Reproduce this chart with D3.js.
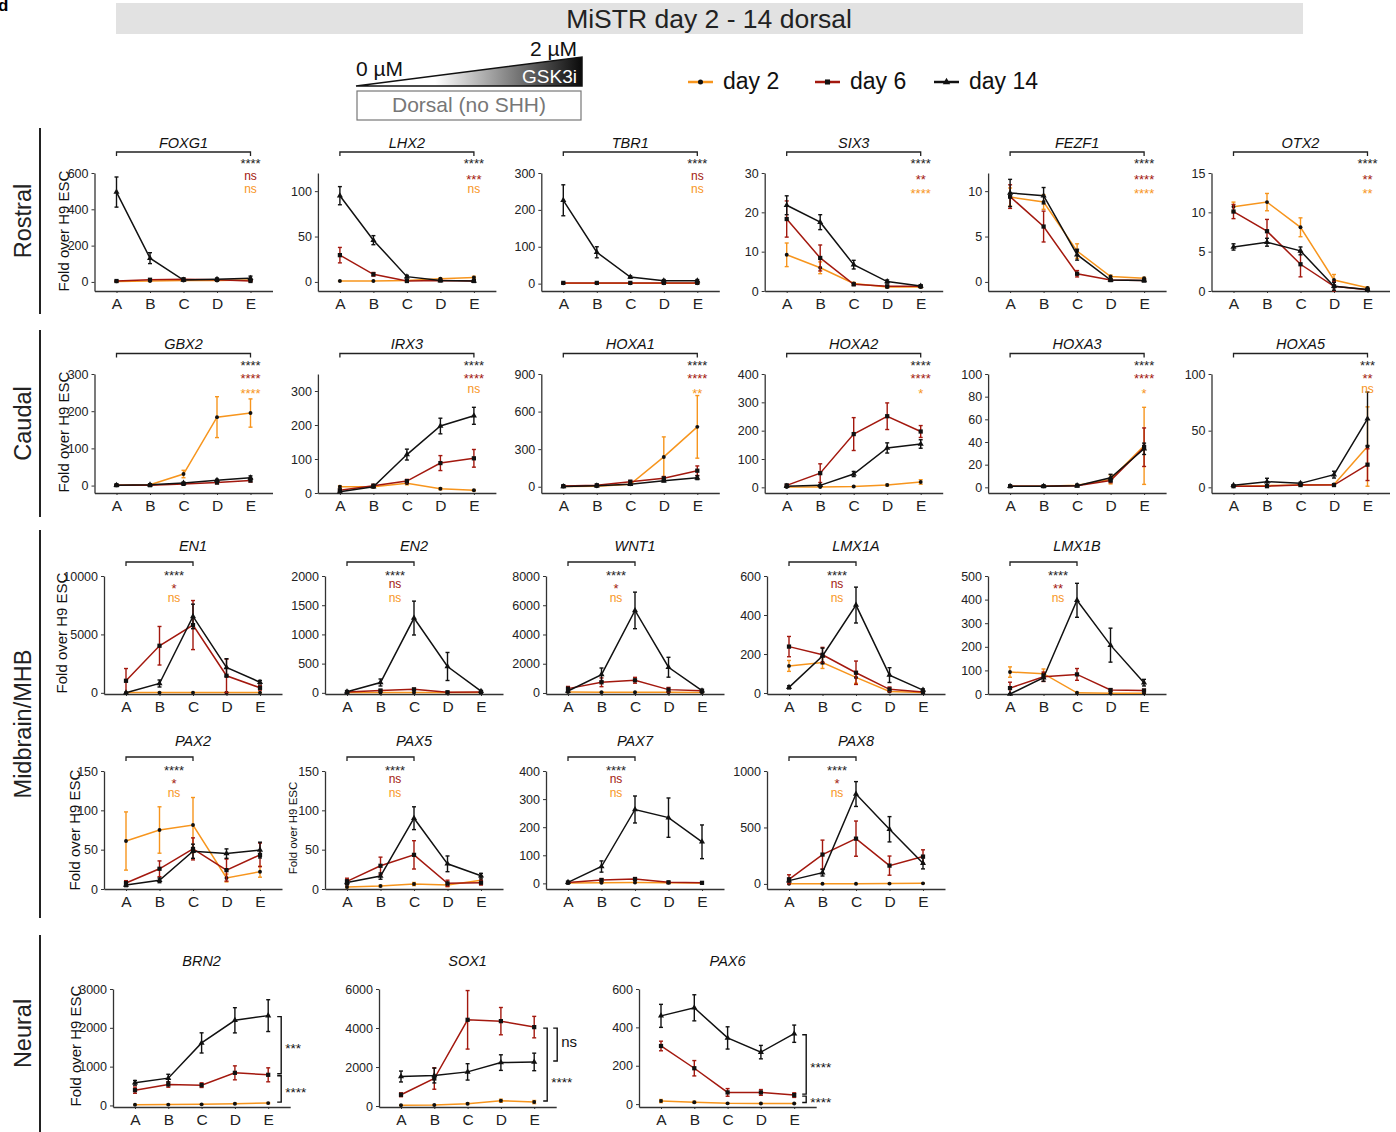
<!DOCTYPE html>
<html><head><meta charset="utf-8">
<script src="https://cdn.jsdelivr.net/npm/d3@7"></script>
<style>body{margin:0;background:#fff}svg{display:block}</style>
</head><body><svg id="c" width="1396" height="1132"></svg>
<script>
// ---------------- DATA ----------------
const categories = ["A","B","C","D","E"];
const seriesNames = ["day 2","day 6","day 14"];
const seriesColors = ["#F7951D","#A3180E","#111111"];
const chartTitle = "MiSTR day 2 - 14 dorsal";
const rowLabels = ["Rostral","Caudal","Midbrain/MHB","Neural"];
const yLabel = "Fold over H9 ESC";

// each gene: [day2, day6, day14] means, errors (SEM), y-domain, ticks, significance [day2, day6, day14]
const FOXG1 = [[3,5,8,8,10],[5,12,15,12,5],[495,131,10,15,20]];
const FOXG1_err = [[2,2,3,3,3],[2,4,4,4,2],[83,30,4,6,12]];
const FOXG1_dom = [-50,600], FOXG1_ticks = [0,200,400,600], FOXG1_sig = ["ns","ns","****"];

const LHX2 = [[1,1,1.5,3.5,5],[29.5,8.4,1,1.5,1],[95,46,5.8,1.5,1]];
const LHX2_err = [[0.3,0.3,0.5,1,1.2],[8.5,2,0.5,0.5,0.3],[10,5,1.5,0.5,0.3]];
const LHX2_dom = [-10,120], LHX2_ticks = [0,50,100], LHX2_sig = ["ns","***","****"];

const TBR1 = [[1,1,1,1,1],[2,2,2,2,2],[226,85,18,8,8]];
const TBR1_err = [[0.3,0.3,0.3,0.3,0.3],[0.5,0.5,0.5,0.5,0.5],[42,15,3,3,3]];
const TBR1_dom = [-20,300], TBR1_ticks = [0,100,200,300], TBR1_sig = ["ns","ns","****"];

const SIX3 = [[9.2,5.9,1.9,1.0,1.0],[18.3,8.4,1.7,1.2,1.2],[21.8,17.5,6.7,2.4,1.3]];
const SIX3_err = [[3,1.5,0.3,0.2,0.2],[4.6,3.3,0.3,0.2,0.2],[2.4,1.9,1.1,0.4,0.2]];
const SIX3_dom = [0,30], SIX3_ticks = [0,10,20,30], SIX3_sig = ["****","**","****"];

const FEZF1 = [[9.35,8.8,3.4,0.6,0.4],[9.4,6.1,0.9,0.2,0.15],[9.8,9.5,3.0,0.2,0.15]];
const FEZF1_err = [[1,0.8,0.8,0.15,0.1],[1.3,1.7,0.35,0.1,0.05],[1.5,0.9,0.6,0.1,0.05]];
const FEZF1_dom = [-1,12], FEZF1_ticks = [0,5,10], FEZF1_sig = ["****","****","****"];

const OTX2 = [[10.7,11.3,8.1,1.4,0.4],[10.1,7.6,3.4,0.6,0.15],[5.6,6.2,5.1,0.6,0.2]];
const OTX2_err = [[0.6,1.1,1.2,0.7,0.1],[0.9,1.5,1.6,0.6,0.1],[0.4,0.5,0.5,0.5,0.1]];
const OTX2_dom = [0,15], OTX2_ticks = [0,5,10,15], OTX2_sig = ["**","**","****"];

const GBX2 = [[1,2,31,184,195],[1,1,4.5,8,13.5],[1,2,7,14,21]];
const GBX2_err = [[0.5,0.5,10,55,38],[0.3,0.3,1.5,3,4],[0.3,0.5,2,3,5]];
const GBX2_dom = [-20,300], GBX2_ticks = [0,100,200,300], GBX2_sig = ["****","****","****"];

const IRX3 = [[18.6,18.6,29,12.7,8],[8,21.5,35,88,102],[4,18.6,113,197,227]];
const IRX3_err = [[3,3,5,3,2],[3,4,5,22,26],[2,3,16,23,25]];
const IRX3_dom = [0,350], IRX3_ticks = [0,100,200,300], IRX3_sig = ["ns","****","****"];

const HOXA1 = [[2,3,19,238,478],[5,12,40,67,128],[2,8,19,48,72]];
const HOXA1_err = [[1,1,5,160,250],[2,4,10,15,38],[1,3,5,10,15]];
const HOXA1_dom = [-50,900], HOXA1_ticks = [0,300,600,900], HOXA1_sig = ["**","****","****"];

const HOXA2 = [[1,1,3,8,19],[7,50,188,251,197],[3.5,7,47,139,153]];
const HOXA2_err = [[0.5,0.5,1,3,8],[3,33,58,47,21],[1,2,9,18,15]];
const HOXA2_dom = [-20,400], HOXA2_ticks = [0,100,200,300,400], HOXA2_sig = ["*","****","****"];

const HOXA3 = [[1,1,1.8,7,36.6],[1,1,1.5,6,35.4],[1,1,1.5,8.5,34]];
const HOXA3_err = [[0.2,0.2,0.4,4,34],[0.2,0.2,0.3,2,17],[0.2,0.2,0.3,3,5]];
const HOXA3_dom = [-5,100], HOXA3_ticks = [0,20,40,60,80,100], HOXA3_sig = ["*","****","****"];

const HOXA5 = [[1,1.5,2,2.5,36],[1,1,2,2,20],[1.8,5,3.5,11.2,60.5]];
const HOXA5_err = [[0.3,0.5,0.5,0.5,35],[0.3,0.3,0.5,0.5,14],[0.5,3,1,3,23.6]];
const HOXA5_dom = [-5,100], HOXA5_ticks = [0,50,100], HOXA5_sig = ["ns","**","***"];

const EN1 = [[20,20,20,20,20],[1030,4030,5800,1460,430],[10,800,6540,2170,910]];
const EN1_err = [[10,10,10,10,10],[1050,1650,2100,1430,200],[10,300,1050,750,150]];
const EN1_dom = [-100,10000], EN1_ticks = [0,5000,10000], EN1_sig = ["ns","*","****"];

const EN2 = [[5,5,5,5,5],[15,40,60,10,15],[17,177,1280,451,29]];
const EN2_err = [[2,2,2,2,2],[5,10,15,5,5],[8,60,290,240,10]];
const EN2_dom = [-20,2000], EN2_ticks = [0,500,1000,1500,2000], EN2_sig = ["ns","ns","****"];

const WNT1 = [[60,50,50,50,40],[297,731,869,229,160],[137,1257,5646,1760,160]];
const WNT1_err = [[20,20,20,20,20],[150,300,200,150,50],[50,450,1250,680,60]];
const WNT1_dom = [-70,8000], WNT1_ticks = [0,2000,4000,6000,8000], WNT1_sig = ["ns","*","****"];

const LMX1A = [[139,156,80,8,3],[238,196,104,19,5],[29,190,451,92,15]];
const LMX1A_err = [[28,30,30,4,2],[52,38,60,12,3],[8,40,92,38,6]];
const LMX1A_dom = [-5,600], LMX1A_ticks = [0,200,400,600], LMX1A_sig = ["ns","ns","****"];

const LMX1B = [[93,86,5,3,3],[25,73,83,17,15],[0,69,397,207,48]];
const LMX1B_err = [[22,20,2,1,1],[25,20,25,5,5],[1,15,72,72,14]];
const LMX1B_dom = [0,500], LMX1B_ticks = [0,100,200,300,400,500], LMX1B_sig = ["ns","**","****"];

const PAX2 = [[61,75,81.3,14,22],[7.6,25.7,51,24,43.4],[5,11,48,45,49.5]];
const PAX2_err = [[37,29.5,35,5,7],[3,10,14,14,15],[2,3,9,6,10]];
const PAX2_dom = [0,150], PAX2_ticks = [0,50,100,150], PAX2_sig = ["ns","*","****"];

const PAX5 = [[2.5,3.8,6.3,5,11],[9.7,29.5,43.4,7.2,8],[8.4,16.4,90,32,16.9]];
const PAX5_err = [[1,1,2,2,5],[4,11,18,4,3],[3,4,14.5,10,3]];
const PAX5_dom = [0,150], PAX5_ticks = [0,50,100,150], PAX5_sig = ["ns","ns","****"];

const PAX7 = [[1,2,3,2,1],[3,12,15.5,4,2],[3.6,60,263,234,148]];
const PAX7_err = [[0.5,1,1,1,0.5],[1,5,5,2,1],[2,20,48,70,60]];
const PAX7_dom = [-20,400], PAX7_ticks = [0,100,200,300,400], PAX7_sig = ["ns","ns","****"];

const PAX8 = [[1,1,1,3,5],[41,260,401,162,242],[29,100,796,484,183]];
const PAX8_err = [[0.5,0.5,0.5,1,2],[40,128,156,85,60],[10,30,110,112,50]];
const PAX8_dom = [-45,1000], PAX8_ticks = [0,500,1000], PAX8_sig = ["ns","*","****"];

const BRN2 = [[20,22,28,45,60],[394,540,523,840,789],[583,703,1611,2194,2314]];
const BRN2_err = [[8,8,10,15,15],[80,70,60,180,180],[60,100,260,325,410]];
const BRN2_dom = [-40,3000], BRN2_ticks = [0,1000,2000,3000];
const BRN2_cmp = [[2,1,"***"],[1,0,"****"]];

const SOX1 = [[40,50,120,270,204],[578,1411,4420,4352,4046],[1513,1564,1751,2227,2261]];
const SOX1_err = [[20,20,40,80,80],[100,550,1500,700,550],[280,380,420,400,450]];
const SOX1_dom = [-50,6000], SOX1_ticks = [0,2000,4000,6000];
const SOX1_cmp = [[1,0,"****"],[1,2,"ns"]];

const PAX6 = [[16,10,4,3,3],[303,187,61,61,47],[460,502,345,271,367]];
const PAX6_err = [[8,5,2,2,2],[25,40,20,15,12],[60,68,58,35,45]];
const PAX6_dom = [-15,600], PAX6_ticks = [0,200,400,600];
const PAX6_cmp = [[2,1,"****"],[1,0,"****"]];

// ---------------- DRAWING ----------------
const FONT = '"Liberation Sans", Arial, Helvetica, sans-serif';
const svg = d3.select("#c").style("font-family", FONT);

// panel label (cropped in the original)
svg.append("text").attr("x",-2).attr("y",11).attr("font-size",17).attr("font-weight","bold").text("d");

// title band
svg.append("rect").attr("x",116).attr("y",3).attr("width",1187).attr("height",31).attr("fill","#e2e2e2");
svg.append("text").attr("x",709).attr("y",28).attr("text-anchor","middle").attr("font-size",26.5).attr("fill","#222").text(chartTitle);

// gradient wedge
const defs = svg.append("defs");
const grad = defs.append("linearGradient").attr("id","gsk").attr("x1","0%").attr("x2","100%");
grad.append("stop").attr("offset","0%").attr("stop-color","#ffffff");
grad.append("stop").attr("offset","35%").attr("stop-color","#ffffff");
grad.append("stop").attr("offset","100%").attr("stop-color","#0a0a0a");
svg.append("path").attr("d","M356,86 L582,57 L582,86 Z").attr("fill","url(#gsk)").attr("stroke","#111").attr("stroke-width",1.5);
svg.append("text").attr("x",356).attr("y",76).attr("font-size",21).attr("fill","#111").text("0 µM");
svg.append("text").attr("x",577).attr("y",56).attr("text-anchor","end").attr("font-size",21).attr("fill","#111").text("2 µM");
svg.append("text").attr("x",577).attr("y",83).attr("text-anchor","end").attr("font-size",19).attr("fill","#fff").text("GSK3i");
svg.append("rect").attr("x",357).attr("y",91).attr("width",224).attr("height",29).attr("fill","#fff").attr("stroke","#777").attr("stroke-width",1.2);
svg.append("text").attr("x",469).attr("y",112).attr("text-anchor","middle").attr("font-size",21).attr("fill","#777").text("Dorsal (no SHH)");

// marker shapes per series
const markerSym = [d3.symbolCircle, d3.symbolSquare, d3.symbolTriangle];
const markerSize = [12, 18, 16];

// legend
const legendX = [688, 815, 934];
seriesNames.forEach((n,i)=>{
  const lx = legendX[i];
  svg.append("line").attr("x1",lx).attr("x2",lx+25).attr("y1",82).attr("y2",82).attr("stroke",seriesColors[i]).attr("stroke-width",2.5);
  svg.append("path").attr("d",d3.symbol(markerSym[i], markerSize[i]+8)()).attr("transform",`translate(${lx+12.5},82)`).attr("fill","#111");
  svg.append("text").attr("x",lx+35).attr("y",89).attr("font-size",23).attr("fill","#111").text(n);
});

// row labels and separators
const rowSpans = [[128,314],[330,517],[530,918],[935,1132]];
rowLabels.forEach((t,i)=>{
  const [a,b] = rowSpans[i];
  svg.append("line").attr("x1",40).attr("x2",40).attr("y1",a).attr("y2",b).attr("stroke","#222").attr("stroke-width",2);
  svg.append("text").attr("transform",`translate(31,${(a+b)/2}) rotate(-90)`).attr("text-anchor","middle").attr("font-size",23.5).attr("fill","#222").text(t);
});

function starOffset(txt, fs){ return (/^\*+$/.test(txt) ? 0.58 : 0.27) * fs; }

function drawPanel(gene, data, err, dom, ticks, lay){
  const g = svg.append("g");
  const left = lay.ax - 22, right = lay.ax + 4*lay.step + 22;
  const x = d3.scalePoint().domain(categories).range([left,right]).padding(22/lay.step);
  const y = d3.scaleLinear().domain(dom).range([lay.yBot, lay.yTop]);

  const ya = g.append("g").attr("transform",`translate(${left},0)`)
    .call(d3.axisLeft(y).tickValues(ticks).tickSize(3).tickPadding(3).tickSizeOuter(0).tickFormat(d3.format("d")));
  const xa = g.append("g").attr("transform",`translate(0,${lay.yBot})`)
    .call(d3.axisBottom(x).tickSize(2).tickPadding(5).tickSizeOuter(0));
  [ya,xa].forEach(a=>{
    a.attr("font-family",FONT);
    a.select(".domain").attr("stroke","#333").attr("stroke-width",1.3);
    a.selectAll(".tick line").attr("stroke","#333");
    a.selectAll("text").attr("fill","#222");
  });
  ya.attr("font-size",12.5);
  xa.attr("font-size",15.5);

  // series, orange first, black last
  data.forEach((vals,si)=>{
    const col = seriesColors[si];
    const pts = vals.map((v,i)=>({c:categories[i], v, e:err[si][i]}));
    g.append("path").datum(pts).attr("fill","none").attr("stroke",col).attr("stroke-width",1.5)
      .attr("d", d3.line().x(d=>x(d.c)).y(d=>y(d.v)));
    const eb = g.selectAll(null).data(pts).enter().append("g").attr("stroke",col).attr("stroke-width",1.4);
    eb.append("line").attr("x1",d=>x(d.c)).attr("x2",d=>x(d.c)).attr("y1",d=>y(d.v-d.e)).attr("y2",d=>y(d.v+d.e));
    eb.append("line").attr("x1",d=>x(d.c)-2).attr("x2",d=>x(d.c)+2).attr("y1",d=>y(d.v-d.e)).attr("y2",d=>y(d.v-d.e));
    eb.append("line").attr("x1",d=>x(d.c)-2).attr("x2",d=>x(d.c)+2).attr("y1",d=>y(d.v+d.e)).attr("y2",d=>y(d.v+d.e));
    g.selectAll(null).data(pts).enter().append("path")
      .attr("d", d3.symbol(markerSym[si], markerSize[si])())
      .attr("transform", d=>`translate(${x(d.c)},${y(d.v)})`).attr("fill","#111");
  });

  // title
  g.append("text").attr("x",x("C")).attr("y",lay.titleY+5.5).attr("text-anchor","middle")
    .attr("font-size",14.5).attr("font-style","italic").attr("fill","#111").text(gene);

  return {g,x,y};
}

function drawSig(g, x, lay, sig){
  const by = lay.bracketY;
  const x1 = x("A"), x2 = x(lay.bracketTo);
  g.append("path").attr("d",`M${x1},${by+4}V${by}H${x2}V${by+4}`).attr("fill","none").attr("stroke","#222").attr("stroke-width",1.3);
  const sx = lay.sigDx === null ? x2 : x1 + lay.sigDx;
  [2,1,0].forEach((si,k)=>{
    const t = sig[si];
    const fs = /^\*+$/.test(t) ? 13 : 12;
    g.append("text").attr("x",sx).attr("y",lay.sigY[k] + starOffset(t,fs)).attr("text-anchor","middle")
      .attr("font-size",fs).attr("fill",seriesColors[si]==="#111111"?"#222":seriesColors[si]).text(t);
  });
}

function drawYLabel(xb, cy, fs){
  svg.append("text").attr("transform",`translate(${xb},${cy}) rotate(-90)`).attr("text-anchor","middle")
    .attr("font-size",fs).attr("fill","#111").text(yLabel);
}

// ----- layout -----
const row1 = {yTop:173, yBot:291, titleY:142, bracketY:152, sigY:[160,176.5,190], bracketTo:"E", sigDx:null, step:33.5};
const row2 = {yTop:374, yBot:493, titleY:343, bracketY:353.5, sigY:[362.3,375.7,390], bracketTo:"E", sigDx:null, step:33.5};
const row3a = {yTop:576, yBot:694, titleY:545, bracketY:562, sigY:[572.3,585,599], bracketTo:"C", sigDx:48, step:33.5};
const row3b = {yTop:771, yBot:889, titleY:740, bracketY:757, sigY:[767.3,780,794], bracketTo:"C", sigDx:48, step:33.5};
const row4 = {yTop:989, yBot:1107, titleY:960, step:33.3};

const rostral = [["FOXG1",FOXG1,FOXG1_err,FOXG1_dom,FOXG1_ticks,FOXG1_sig],["LHX2",LHX2,LHX2_err,LHX2_dom,LHX2_ticks,LHX2_sig],
  ["TBR1",TBR1,TBR1_err,TBR1_dom,TBR1_ticks,TBR1_sig],["SIX3",SIX3,SIX3_err,SIX3_dom,SIX3_ticks,SIX3_sig],
  ["FEZF1",FEZF1,FEZF1_err,FEZF1_dom,FEZF1_ticks,FEZF1_sig],["OTX2",OTX2,OTX2_err,OTX2_dom,OTX2_ticks,OTX2_sig]];
const caudal = [["GBX2",GBX2,GBX2_err,GBX2_dom,GBX2_ticks,GBX2_sig],["IRX3",IRX3,IRX3_err,IRX3_dom,IRX3_ticks,IRX3_sig],
  ["HOXA1",HOXA1,HOXA1_err,HOXA1_dom,HOXA1_ticks,HOXA1_sig],["HOXA2",HOXA2,HOXA2_err,HOXA2_dom,HOXA2_ticks,HOXA2_sig],
  ["HOXA3",HOXA3,HOXA3_err,HOXA3_dom,HOXA3_ticks,HOXA3_sig],["HOXA5",HOXA5,HOXA5_err,HOXA5_dom,HOXA5_ticks,HOXA5_sig]];
const mid1 = [["EN1",EN1,EN1_err,EN1_dom,EN1_ticks,EN1_sig],["EN2",EN2,EN2_err,EN2_dom,EN2_ticks,EN2_sig],
  ["WNT1",WNT1,WNT1_err,WNT1_dom,WNT1_ticks,WNT1_sig],["LMX1A",LMX1A,LMX1A_err,LMX1A_dom,LMX1A_ticks,LMX1A_sig],
  ["LMX1B",LMX1B,LMX1B_err,LMX1B_dom,LMX1B_ticks,LMX1B_sig]];
const mid2 = [["PAX2",PAX2,PAX2_err,PAX2_dom,PAX2_ticks,PAX2_sig],["PAX5",PAX5,PAX5_err,PAX5_dom,PAX5_ticks,PAX5_sig],
  ["PAX7",PAX7,PAX7_err,PAX7_dom,PAX7_ticks,PAX7_sig],["PAX8",PAX8,PAX8_err,PAX8_dom,PAX8_ticks,PAX8_sig]];

function drawRow(list, base, a0, colStep){
  list.forEach((p,c)=>{
    const lay = Object.assign({}, base, {ax: a0 + c*colStep});
    const r = drawPanel(p[0],p[1],p[2],p[3],p[4],lay);
    drawSig(r.g, r.x, lay, p[5]);
  });
}
drawRow(rostral, row1, 116.5, 223.4);
drawRow(caudal, row2, 116.5, 223.4);
drawRow(mid1, row3a, 126, 221);
drawRow(mid2, row3b, 126, 221);

// neural row
const neural = [["BRN2",BRN2,BRN2_err,BRN2_dom,BRN2_ticks,BRN2_cmp],["SOX1",SOX1,SOX1_err,SOX1_dom,SOX1_ticks,SOX1_cmp],["PAX6",PAX6,PAX6_err,PAX6_dom,PAX6_ticks,PAX6_cmp]];
const neuralA = [135, 401, 661];
const neuralBr = { // bracket x offsets from E, label y fractions
  BRN2: [{dx:13, frac:0.5},{dx:13, frac:0.5}],
  SOX1: [{dx:13, frac:0.7},{dx:23, frac:0.45}],
  PAX6: [{dx:12, frac:0.5},{dx:12, frac:0.5}]
};
neural.forEach((p,c)=>{
  const lay = Object.assign({}, row4, {ax: neuralA[c]});
  const r = drawPanel(p[0],p[1],p[2],p[3],p[4],lay);
  const xe = r.x("E");
  p[5].forEach((cmp,k)=>{
    const [s1,s2,lab] = cmp;
    const o = neuralBr[p[0]][k];
    let ya = r.y(p[1][s1][4]), yb = r.y(p[1][s2][4]);
    const top = Math.min(ya,yb)+1, bot = Math.max(ya,yb)-1;
    const bx = xe + o.dx;
    r.g.append("path").attr("d",`M${bx-4},${top}H${bx}V${bot}H${bx-4}`).attr("fill","none").attr("stroke","#111").attr("stroke-width",1.4);
    const isStar = /^\*+$/.test(lab);
    const fs = isStar ? 13.5 : 15;
    const cy = top + (bot-top)*o.frac;
    r.g.append("text").attr("x",bx+4).attr("y",cy + starOffset(lab,fs)).attr("font-size",fs).attr("fill","#111").text(lab);
  });
});

// y labels
drawYLabel(68.5, 231, 15);
drawYLabel(68.5, 432, 15);
drawYLabel(67, 633, 15);
drawYLabel(80, 830, 15);
drawYLabel(297, 828, 11.5);
drawYLabel(81, 1046, 15);
</script></body></html>
